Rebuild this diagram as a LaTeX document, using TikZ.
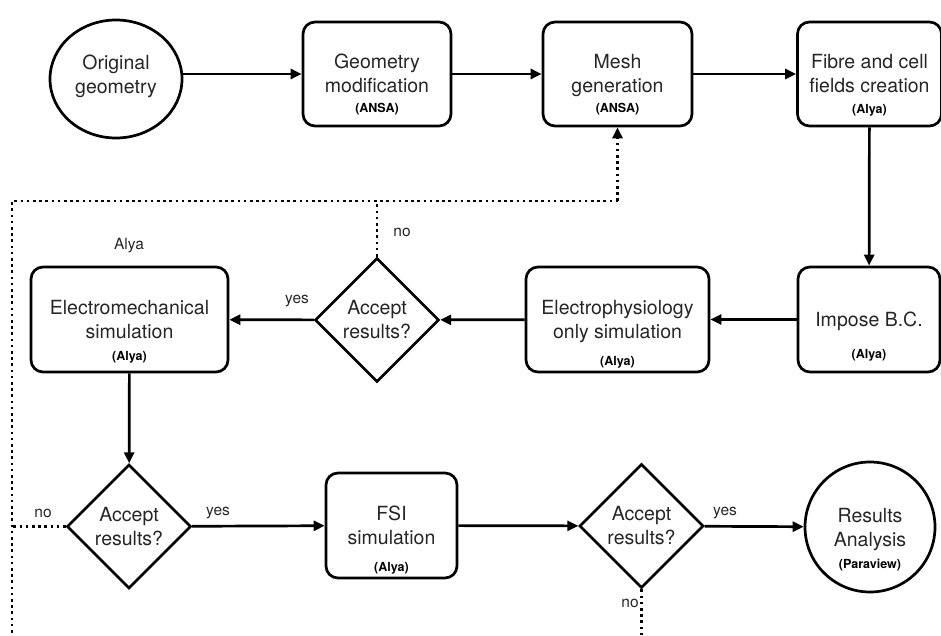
\documentclass[tikz,border=0pt]{standalone}
\usepackage{fontspec}
\setmainfont{TeX Gyre Heros}
\usetikzlibrary{arrows.meta,shapes.geometric}
\newcommand\mystr{\rule[-5.2pt]{0pt}{24pt}}
\begin{document}
\begin{tikzpicture}[x=1pt,y=-1pt,
  line width=2.7pt,
  mainfont/.style={font=\fontsize{19.5}{24}\selectfont, text=black!85},
  box/.style={draw, rounded corners=12pt, align=center, inner sep=0pt, mainfont},
  dec/.style={draw, diamond, minimum width=124pt, minimum height=124pt, inner sep=0pt, align=center, mainfont},
  sub/.style={font=\fontsize{12.5}{15}\selectfont\bfseries, inner sep=0pt},
  lbl/.style={font=\fontsize{15.5}{18}\selectfont, text=black!85, inner sep=0pt},
  arr/.style={-{Triangle[length=11pt,width=10pt]}},
  dots/.style={dash pattern=on 2.6pt off 3.6pt, line width=2.8pt},
]
\useasboundingbox (0,0) rectangle (941,636);
\clip (0,0) rectangle (941,636);

% nodes
\node[draw, ellipse, minimum width=132pt, minimum height=118pt, inner sep=0pt] (orig) at (116,79) {};
\node[align=center, mainfont] (origtext) at (116,75) {\mystr Original\\\mystr geometry};
\node[box, minimum width=148pt, minimum height=104pt] (geom) at (377,74) {\mystr Geometry\\\mystr modification};
\node[box, minimum width=149pt, minimum height=104pt] (mesh) at (617.5,74) {\mystr Mesh\\\mystr generation};
\node[box, minimum width=144pt, minimum height=104pt] (fibre) at (869.5,74) {\mystr Fibre and cell\\\mystr fields creation};
\node[box, minimum width=142pt, minimum height=105pt] (impose) at (869,319.5) {\mystr Impose B.C.};
\node[box, minimum width=183pt, minimum height=105pt] (ep) at (617.5,319.5) {\mystr Electrophysiology\\\mystr only simulation};
\node[dec] (d1) at (377,320) {\mystr Accept\\\mystr results?};
\node[box, minimum width=197pt, minimum height=105pt] (em) at (129.5,319.5) {\mystr Electromechanical\\\mystr simulation};
\node[dec] (d2) at (129,526.5) {\mystr Accept\\\mystr results?};
\node[box, minimum width=131pt, minimum height=105pt] (fsi) at (391.5,525.5) {\mystr FSI\\\mystr simulation};
\node[dec] (d3) at (641.5,526) {\mystr Accept\\\mystr results?};
\node[draw, circle, minimum size=130pt, inner sep=0pt] (res) at (870,527) {};
\node[align=center, mainfont] (restext) at (870,528) {\mystr Results\\\mystr Analysis};

% sub labels
\node[sub] (geomsub) at (377,109) {(ANSA)};
\node[sub] (meshsub) at (617.5,109) {(ANSA)};
\node[sub] (fibresub) at (869.5,110) {(Alya)};
\node[sub] (imposesub) at (869,355) {(Alya)};
\node[sub] (epsub) at (617.5,362) {(Alya)};
\node[sub] (emsub) at (129.5,357) {(Alya)};
\node[sub] (fsisub) at (391.5,568) {(Alya)};
\node[sub] (ressub) at (870,565) {(Paraview)};

% edge labels
\node[lbl] (alya) at (129,246) {Alya};
\node[lbl] (no1) at (402,232) {no};
\node[lbl] (yes1) at (297,301) {yes};
\node[lbl] (no2) at (43,513) {no};
\node[lbl] (yes2) at (218,513) {yes};
\node[lbl] (yes3) at (725,513) {yes};
\node[lbl] (no3) at (630,603) {no};

% connectors
\draw[arr] (orig.east |- geom.west) -- (geom.west);
\draw[arr] (geom) -- (mesh);
\draw[arr] (mesh) -- (fibre);
\draw[arr] (fibre) -- (impose);
\draw[arr] (impose) -- (ep);
\draw[arr] (ep) -- (d1);
\draw[arr] (d1) -- (em);
\draw[arr] (em) -- (d2);
\draw[arr] (d2) -- (fsi);
\draw[arr] (fsi) -- (d3);
\draw[arr] (d3) -- (res);

% dotted feedback
\coordinate (lb) at (12,201);
\coordinate (rb) at (617.5,201);
\coordinate (ll) at (12,526.5);
\coordinate (lbot) at (12,645);
\coordinate (d3bot) at (641.5,645);
\draw[dots] (d2.west) -- (ll);
\draw[dots] (lbot) -- (lb) -- (rb);
\draw[dots, arr] (rb) -- (mesh.south);
\draw[dots] (d1.north) -- (d1.north |- lb);
\draw[dots] (d3.south) -- (d3bot);
\end{tikzpicture}
\end{document}
